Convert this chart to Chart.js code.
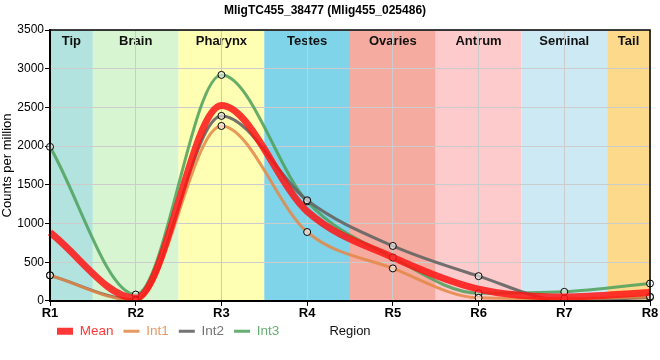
<!DOCTYPE html>
<html><head><meta charset="utf-8">
<script src="https://cdn.jsdelivr.net/npm/chart.js@4"></script>
<style>html,body{margin:0;padding:0;background:#fff}</style>
</head><body>
<canvas id="c" width="660" height="360"></canvas>
<script>
const categories = ['R1','R2','R3','R4','R5','R6','R7','R8'];
const meanValues = [883, 34, 2523, 1158, 563, 153, 51, 108];
const int1Values = [330, 5, 2260, 890, 420, 40, 30, 55];
const int2Values = [330, 15, 2390, 1300, 710, 320, 5, 45];
const int3Values = [1990, 82, 2920, 1285, 560, 100, 117, 225];
const yTickStep = 500;
const yMax = 3500;
const bandNames = ['Tip','Brain','Pharynx','Testes','Ovaries','Antrum','Seminal','Tail'];
const bandStarts = [0, 0.5, 1.5, 2.5, 3.5, 4.5, 5.5, 6.5];
const bandEnds = [0.5, 1.5, 2.5, 3.5, 4.5, 5.5, 6.5, 7];
const bandColors = ['#b3e3de','#d7f5d0','#ffffb4','#80d4ea','#f5ab9f','#fecbcc','#cdeaf4','#fdd98b'];

const FONT = "'Liberation Sans', Arial, sans-serif";

const bandsPlugin = {
  id: 'bands',
  beforeDraw(chart) {
    const {ctx, chartArea: a, scales: {x}} = chart;
    ctx.save();
    for (let i = 0; i < bandNames.length; i++) {
      const x0 = x.getPixelForValue(bandStarts[i]);
      const x1 = x.getPixelForValue(bandEnds[i]);
      ctx.fillStyle = bandColors[i];
      ctx.fillRect(x0, a.top, x1 - x0, a.bottom - a.top);
    }
    ctx.fillStyle = '#111';
    ctx.font = 'bold 13px ' + FONT;
    ctx.textAlign = 'center';
    ctx.textBaseline = 'middle';
    for (let i = 0; i < bandNames.length; i++) {
      const x0 = x.getPixelForValue(bandStarts[i]);
      const x1 = x.getPixelForValue(bandEnds[i]);
      ctx.fillText(bandNames[i], (x0 + x1) / 2, a.top + 11);
    }
    ctx.restore();
  },
  afterLayout(chart) {
    const lg = chart.legend;
    if (lg) { lg.left += 47; lg.right += 47; lg.top -= 7; lg.bottom -= 7; }
  },
  afterDraw(chart) {
    const {ctx, chartArea: a} = chart;
    ctx.save();
    ctx.strokeStyle = '#000';
    ctx.lineWidth = 1.5;
    ctx.strokeRect(a.left, a.top, a.right - a.left, a.bottom - a.top);
    ctx.fillStyle = '#111';
    ctx.font = '13px ' + FONT;
    ctx.textAlign = 'center';
    ctx.textBaseline = 'middle';
    const lg = chart.legend;
    ctx.fillText('Region', (a.left + a.right) / 2, lg.top + 10 + 7);
    ctx.restore();
  }
};

const pointStyleOpts = {
  pointRadius: 3.5,
  pointBorderColor: '#000',
  pointBorderWidth: 1,
  pointBackgroundColor: 'rgba(255,255,255,0.55)'
};

new Chart(document.getElementById('c'), {
  type: 'line',
  data: {
    labels: categories,
    datasets: [
      { label: 'Mean', data: meanValues, borderColor: 'rgba(255,20,20,0.85)', borderWidth: 7, pointRadius: 0, cubicInterpolationMode: 'monotone' },
      Object.assign({ label: 'Int1', data: int1Values, borderColor: 'rgba(228,135,70,0.85)', borderWidth: 3, cubicInterpolationMode: 'monotone' }, pointStyleOpts),
      Object.assign({ label: 'Int2', data: int2Values, borderColor: 'rgba(100,100,100,0.9)', borderWidth: 3, cubicInterpolationMode: 'monotone' }, pointStyleOpts),
      Object.assign({ label: 'Int3', data: int3Values, borderColor: 'rgba(75,160,90,0.85)', borderWidth: 3, cubicInterpolationMode: 'monotone' }, pointStyleOpts)
    ]
  },
  options: {
    responsive: false,
    animation: false,
    devicePixelRatio: 1,
    layout: { padding: { left: 0, right: 10, top: 0, bottom: 5 } },
    plugins: {
      title: { display: true, text: 'MligTC455_38477 (Mlig455_025486)', color: '#000',
        font: { family: FONT, size: 12, weight: 'bold' }, padding: { top: 3, bottom: 12.6 } },
      legend: {
        position: 'bottom', align: 'start',
        labels: {
          usePointStyle: true, pointStyleWidth: 16, boxHeight: 8, padding: 10,
          font: { family: FONT, size: 13.5 },
          generateLabels(chart) {
            const items = Chart.defaults.plugins.legend.labels.generateLabels(chart);
            items.forEach(it => {
              const ds = chart.data.datasets[it.datasetIndex];
              it.fontColor = ds.borderColor;
              it.strokeStyle = ds.borderColor;
              it.fillStyle = ds.borderColor;
              it.lineWidth = ds.borderWidth;
              it.lineCap = 'butt';
              it.pointStyle = 'line';
            });
            return items;
          }
        }
      },
      tooltip: { enabled: false }
    },
    scales: {
      x: {
        type: 'category', offset: false,
        grid: { color: '#cccccc', tickColor: '#000', tickLength: 5 },
        border: { color: '#000', width: 2 },
        ticks: { color: '#000', font: { family: FONT, size: 13, weight: 'bold' }, padding: 0, maxRotation: 0 }
      },
      y: {
        min: 0, max: yMax,
        grid: { color: '#cccccc', tickColor: '#000', tickLength: 5 },
        border: { color: '#000', width: 2 },
        ticks: { stepSize: yTickStep, color: '#000', font: { family: FONT, size: 12 }, padding: 1, callback: v => String(v) },
        title: { display: true, text: 'Counts per million', color: '#000', font: { family: FONT, size: 13 }, padding: { top: 0, bottom: 0 } },
        afterFit(s) { s.width = 50; }
      }
    }
  },
  plugins: [bandsPlugin]
});
</script>
</body></html>
